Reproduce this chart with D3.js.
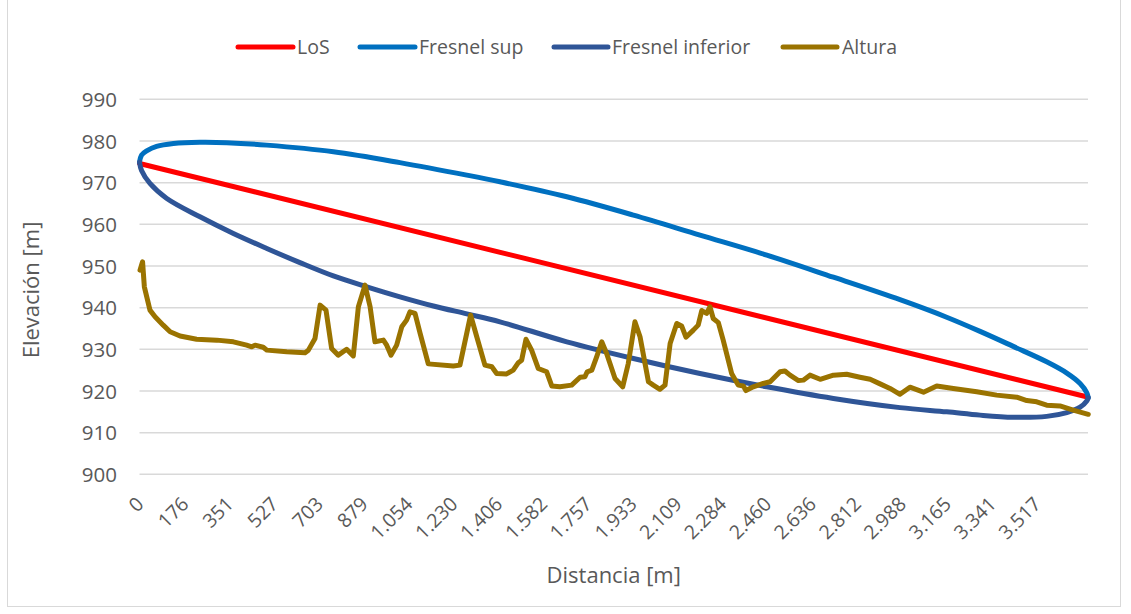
<!DOCTYPE html>
<html>
<head>
<meta charset="utf-8">
<script src="https://cdn.jsdelivr.net/npm/d3@7"></script>
<style>
  html, body { margin: 0; padding: 0; background: #fff; }
  svg { display: block; }
  text { font-family: "Open Sans", "Noto Sans", sans-serif; fill: #595959; }
</style>
</head>
<body>
<svg id="chart" width="1131" height="614"></svg>
<script>
// ---------- DATA ----------
const seriesNames = ["LoS", "Fresnel sup", "Fresnel inferior", "Altura"];
const seriesColors = ["#FF0000", "#0070C0", "#2F5597", "#9A7300"];

const xTickLabels = ["0","176","351","527","703","879","1.054","1.230","1.406","1.582","1.757",
  "1.933","2.109","2.284","2.460","2.636","2.812","2.988","3.165","3.341","3.517"];
const yTicks = [900, 910, 920, 930, 940, 950, 960, 970, 980, 990];

const distLoS = [0, 3712];
const losValues = [974.6, 918.6];

const distFresnelSup = [0, 8, 28, 67, 133, 237, 342, 499, 760, 1021, 1283, 1413, 1675, 1936, 2197,
  2459, 2720, 2981, 3164, 3295, 3425, 3556, 3635, 3687, 3713, 3719];
const fresnelSupValues = [974.9, 976.6, 977.6, 978.7, 979.4, 979.7, 979.6, 979.0, 977.4, 974.8, 971.8, 970.2, 966.6, 962.2, 957.4,
  952.6, 947.3, 941.9, 937.7, 934.3, 930.7, 927.0, 924.3, 921.8, 919.6, 918.4];

const distFresnelInf = [0, 8, 41, 107, 237, 368, 499, 629, 760, 891, 1021, 1152, 1283, 1413, 1675, 1936,
  2197, 2459, 2720, 2981, 3164, 3295, 3425, 3556, 3635, 3687, 3713, 3719];
const fresnelInfValues = [974.9, 972.9, 969.8, 966.2, 961.8, 957.8, 954.2, 950.8, 947.6, 945.0, 942.6, 940.4, 938.5, 936.6, 931.8, 927.8,
  924.2, 921.0, 918.2, 916.0, 915.0, 914.2, 913.7, 913.9, 914.8, 916.1, 917.6, 918.4];

const distAltura = [2, 12, 19, 41, 61, 93, 120, 159, 224, 303, 368, 420, 440, 453, 485, 499, 577, 649, 662, 688,
  708, 731, 753, 779, 812, 838, 858, 884, 904, 923, 956, 969, 986, 1008, 1028, 1047, 1060, 1080, 1100, 1132,
  1230, 1256, 1298, 1322, 1354, 1381, 1400, 1439, 1465, 1485, 1498, 1515, 1537, 1563, 1596, 1616, 1648, 1694, 1727, 1746,
  1755, 1773, 1792, 1812, 1831, 1864, 1894, 1916, 1942, 1962, 1995, 2014, 2040, 2060, 2080, 2106, 2125, 2142, 2171, 2190,
  2204, 2223, 2236, 2249, 2269, 2288, 2321, 2347, 2367, 2377, 2406, 2445, 2472, 2511, 2530, 2550, 2583, 2602, 2628, 2668,
  2720, 2772, 2824, 2864, 2903, 2942, 2981, 3020, 3073, 3125, 3190, 3282, 3360, 3439, 3478, 3517, 3556, 3608, 3660, 3719];
const alturaValues = [949.0, 951.0, 945.0, 939.4, 937.8, 935.8, 934.2, 933.2, 932.4, 932.2, 931.8, 931.0, 930.6, 931.0, 930.5, 929.8, 929.4, 929.2, 929.8, 932.6,
  940.6, 939.4, 930.2, 928.6, 930.0, 928.4, 940.2, 945.4, 940.2, 931.8, 932.2, 931.0, 928.6, 931.0, 935.4, 937.0, 939.0, 938.6, 933.8, 926.5,
  926.0, 926.2, 938.2, 933.0, 926.2, 925.8, 924.2, 924.1, 925.0, 926.8, 927.4, 932.4, 929.8, 925.4, 924.6, 921.2, 921.0, 921.4, 923.3, 923.4,
  924.6, 925.0, 928.2, 931.8, 929.0, 923.0, 921.0, 926.6, 936.6, 933.0, 922.2, 921.4, 920.4, 921.4, 931.4, 936.2, 935.6, 932.9, 934.6, 935.8,
  939.3, 938.6, 940.2, 937.4, 936.4, 932.2, 924.2, 921.4, 921.2, 920.1, 921.0, 921.8, 922.2, 924.6, 924.8, 923.8, 922.5, 922.6, 923.8, 922.8,
  923.8, 924.0, 923.3, 922.8, 921.7, 920.6, 919.2, 920.9, 919.7, 921.2, 920.6, 919.8, 919.0, 918.5, 917.7, 917.4, 916.6, 916.4, 915.4, 914.4];

// ---------- CHART ----------
const svg = d3.select("#chart");
const plot = { left: 139.5, right: 1088, top: 99.3, bottom: 474.3 };

// chart area border
svg.append("rect")
  .attr("x", 7.5).attr("y", -1).attr("width", 1113).attr("height", 607.5)
  .attr("fill", "#fff").attr("stroke", "#d9d9d9").attr("stroke-width", 1);

const x = d3.scaleLinear().domain([0, 3718]).range([plot.left, plot.right]);
const y = d3.scaleLinear().domain([900, 990]).range([plot.bottom, plot.top]);

// gridlines
svg.append("g").selectAll("line").data(yTicks).join("line")
  .attr("x1", plot.left).attr("x2", plot.right)
  .attr("y1", d => y(d)).attr("y2", d => y(d))
  .attr("stroke", "#d9d9d9").attr("stroke-width", 1.5);

// y axis labels
const yAxis = d3.axisLeft(y).tickValues(yTicks).tickSize(0).tickPadding(0).tickFormat(d3.format("d"));
const gy = svg.append("g").attr("transform", `translate(117,0)`).call(yAxis);
gy.select(".domain").remove();
gy.selectAll("text")
  .attr("x", 0).attr("dy", "0.35em")
  .style("font-family", '"Open Sans", sans-serif').style("font-size", "20.5px").attr("fill", "#595959");

// x axis labels (rotated)
const xTickPos = xTickLabels.map(s => +s.replace(".", ""));
const xAxis = d3.axisBottom(x).tickValues(xTickPos).tickSize(0).tickFormat((d, i) => xTickLabels[i]);
const gx = svg.append("g").attr("transform", `translate(0,${plot.bottom})`).call(xAxis);
gx.select(".domain").remove();
gx.selectAll("text")
  .attr("x", 0).attr("y", 0).attr("dy", 0)
  .attr("text-anchor", "end")
  .attr("transform", "translate(5,31) rotate(-45)")
  .style("font-family", '"Open Sans", sans-serif').style("font-size", "19.5px").attr("fill", "#595959");

// series
function toPts(xs, ys) { return xs.map((d, i) => [d, ys[i]]); }
const lineLin = d3.line().x(d => x(d[0])).y(d => y(d[1]));
const lineSmooth = d3.line().x(d => x(d[0])).y(d => y(d[1])).curve(d3.curveCatmullRom.alpha(0.5));

const series = [
  { pts: toPts(distLoS, losValues), gen: lineLin },
  { pts: toPts(distFresnelSup, fresnelSupValues), gen: lineSmooth },
  { pts: toPts(distFresnelInf, fresnelInfValues), gen: lineSmooth },
  { pts: toPts(distAltura, alturaValues), gen: lineLin }
];
series.forEach((s, i) => {
  svg.append("path")
    .attr("d", s.gen(s.pts))
    .attr("fill", "none")
    .attr("stroke", seriesColors[i])
    .attr("stroke-width", 5)
    .attr("stroke-linejoin", "round")
    .attr("stroke-linecap", "round");
});

// legend
const legendY = 47;
const legendItems = [
  { x1: 238, x2: 293, tx: 297 },
  { x1: 360, x2: 415, tx: 419 },
  { x1: 554, x2: 608, tx: 612 },
  { x1: 783, x2: 837, tx: 842 }
];
const lg = svg.append("g");
legendItems.forEach((it, i) => {
  lg.append("line")
    .attr("x1", it.x1).attr("x2", it.x2).attr("y1", legendY).attr("y2", legendY)
    .attr("stroke", seriesColors[i]).attr("stroke-width", 5).attr("stroke-linecap", "round");
  lg.append("text")
    .attr("x", it.tx).attr("y", legendY).attr("dy", "0.35em")
    .style("font-size", "19.5px")
    .text(seriesNames[i]);
});

// axis titles
svg.append("text")
  .attr("x", (plot.left + plot.right) / 2).attr("y", 575).attr("dy", "0.35em")
  .attr("text-anchor", "middle").style("font-size", "22px")
  .text("Distancia [m]");
svg.append("text")
  .attr("transform", `translate(31,290) rotate(-90)`)
  .attr("dy", "0.35em")
  .attr("text-anchor", "middle").style("font-size", "22px")
  .text("Elevación [m]");
</script>
</body>
</html>
